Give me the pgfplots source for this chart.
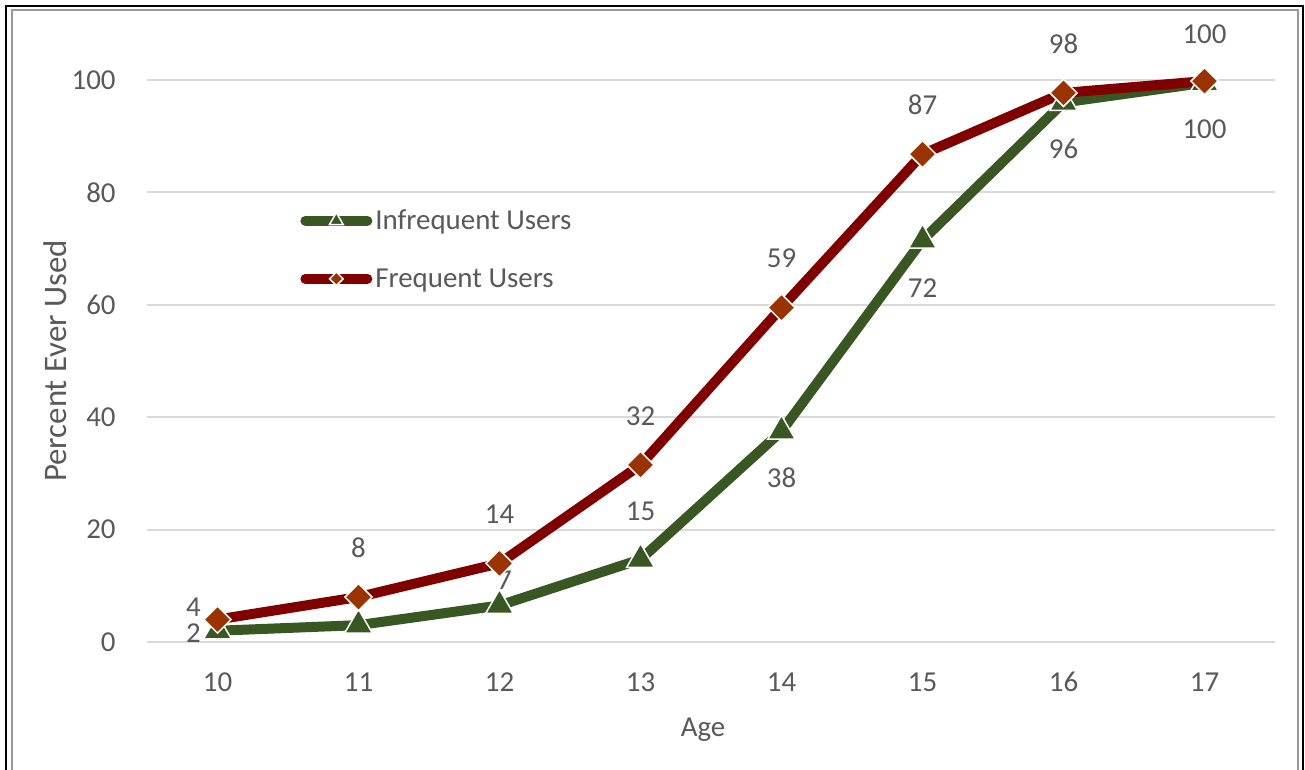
\documentclass[border=0pt]{standalone}
\usepackage{fontspec}
\setmainfont{Carlito}
\usepackage{pgfplots}
\usepackage{pgfplotstable}
\pgfplotsset{compat=1.18}
\definecolor{txt}{HTML}{595959}
\definecolor{grn}{HTML}{385723}
\definecolor{dred}{HTML}{800000}
\definecolor{dmd}{HTML}{993300}
\definecolor{gridc}{HTML}{D9D9D9}

\pgfplotstableread{
x y lab dx dy
10 2 2 -12 -1
11 3 {} 0 0
12 6.5 7 2.5 12.75
13 14.7 15 0 24.2
14 37.5 38 0 -23
15 71.5 72 0 -24
16 96 96 0 -23
17 99.5 100 0 -23
}\infreq

\pgfplotstableread{
x y lab dx dy
10 4 4 -12 6.25
11 8 8 0 24.5
12 14 14 0 24.5
13 31.5 32 0 24.5
14 59.5 59 0 24.5
15 86.8 87 0 24.5
16 97.7 98 0 24.5
17 99.8 100 0 23.5
}\freq

\begin{document}
\fontsize{14.5}{17}\selectfont
\begin{tikzpicture}
\useasboundingbox (0,0) rectangle (652.5bp,385bp);
\draw[black, line width=1bp] (3bp,0) -- (3bp,382bp) -- (651.5bp,382bp) -- (651.5bp,0);
\draw[black!40, line width=0.8bp] (6bp,0) -- (6bp,380bp) -- (649bp,380bp) -- (649bp,0);
\begin{axis}[
  at={(73.5bp,64bp)}, anchor=south west,
  scale only axis, width=564bp, height=281bp,
  xmin=9.5, xmax=17.5, ymin=0, ymax=100,
  xtick={10,...,17}, ytick={0,20,...,100},
  axis line style={draw=none},
  major tick length=0pt,
  ymajorgrids, grid style={gridc, line width=1bp},
  /pgf/number format/assume math mode=true,
  tick label style={text=txt, font=\fontsize{14.5}{17}\selectfont},
  xticklabel style={anchor=center, yshift=-20bp},
  yticklabel style={anchor=east, inner sep=0pt, xshift=-15.5bp},
  xlabel={Age}, ylabel={Percent Ever Used},
  label style={text=txt},
  xlabel style={at={(axis description cs:0.493,-0.156)}, anchor=center, font=\fontsize{14.5}{17}\selectfont},
  ylabel style={at={(axis description cs:-0.0815,0.5)}, anchor=center, font=\fontsize{16.5}{19}\selectfont},
  clip=false,
  legend style={draw=none, fill=none, at={(axis description cs:0.1356,0.698)}, anchor=west,
    inner sep=0pt, row sep=17bp,
    nodes={inner sep=0pt, text=txt, font=\fontsize{14.5}{17}\selectfont, text height=1.5ex, text depth=.25ex}},
  legend cell align=left,
  legend image code/.code={%
    \draw[#1, line cap=round, mark repeat=2, mark phase=2, every mark/.append style={scale=0.5}] plot coordinates {(2.5bp,0bp) (18bp,0bp) (33.5bp,0bp)};},
  nodes near coords,
  point meta=explicit symbolic,
  visualization depends on={\thisrow{dx} \as \dx},
  visualization depends on={\thisrow{dy} \as \dy},
  nodes near coords style={anchor=center, inner sep=0pt, text=txt, font=\fontsize{14.5}{17}\selectfont, xshift=\dx bp, yshift=\dy bp},
]
\addplot[grn, line width=5bp, mark=triangle*, mark size=8bp,
  mark options={fill=grn, draw=white, line width=0.75bp}]
  table[x=x, y=y, meta=lab] {\infreq};
\addlegendentry{\hspace*{1.5bp}Infrequent Users}
\addplot[dred, line width=5bp, mark=square*, mark size=4.8bp,
  mark options={fill=dmd, draw=white, line width=0.75bp, rotate=45}]
  table[x=x, y=y, meta=lab] {\freq};
\addlegendentry{\hspace*{1.5bp}Frequent Users}
\end{axis}
\end{tikzpicture}
\end{document}
